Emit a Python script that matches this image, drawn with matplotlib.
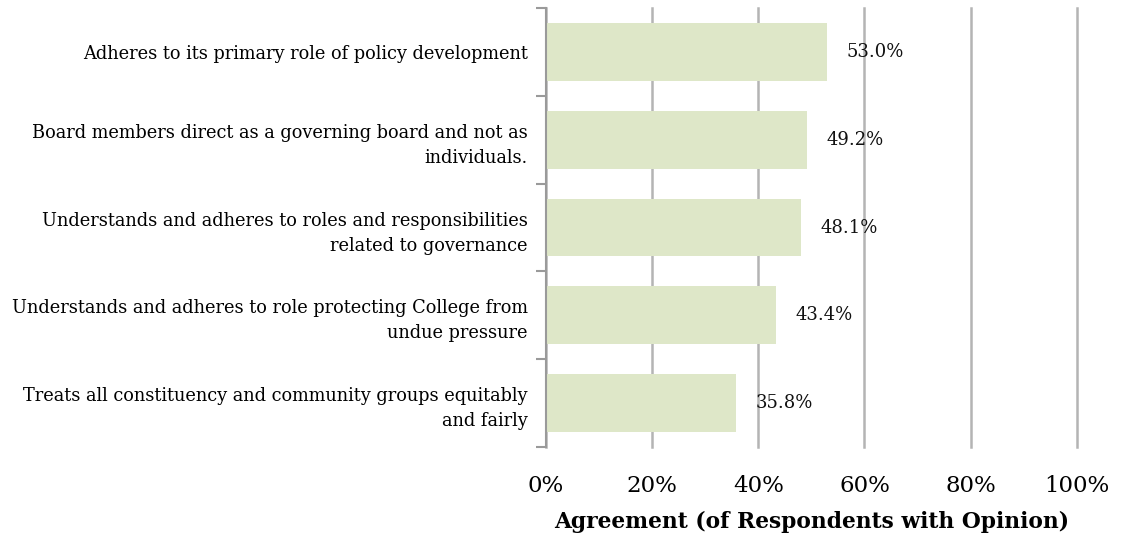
import matplotlib.pyplot as plt
from matplotlib.ticker import FixedLocator

categories = [
    'Adheres to its primary role of policy development',
    'Board members direct as a governing board and not as\nindividuals.',
    'Understands and adheres to roles and responsibilities\nrelated to governance',
    'Understands and adheres to role protecting College from\nundue pressure',
    'Treats all constituency and community groups equitably\nand fairly',
]
agreement = [53.0, 49.2, 48.1, 43.4, 35.8]
x_ticks = [0, 20, 40, 60, 80, 100]

plt.rcParams['font.family'] = ['DejaVu Serif']

fig = plt.figure(figsize=(11.23, 5.43), dpi=100)
ax = fig.add_axes([0.486, 0.177, 0.473, 0.808])

pos = list(range(len(categories)))
ax.barh(pos, agreement, height=0.66, color='#dee7c8', zorder=2)
for y, v in zip(pos, agreement):
    ax.text(v + 3.7, y, '%.1f%%' % v, va='center', ha='left', fontsize=13, color='#111111', zorder=3)

ax.set_xlim(0, 100)
ax.set_ylim(len(categories) - 0.5, -0.5)
ax.set_xticks(x_ticks)
ax.set_xticklabels(['%d%%' % t for t in x_ticks], fontsize=16.5)
ax.tick_params(axis='x', length=0, pad=20)
for gl in ax.get_xgridlines():
    gl.set_clip_on(False)
ax.grid(axis='x', color='#b4b4b4', linewidth=1.8, zorder=0)

ax.set_yticks(pos)
ax.set_yticklabels(categories, fontsize=12.8, linespacing=1.5)
ax.yaxis.set_minor_locator(FixedLocator([p - 0.5 for p in pos] + [len(pos) - 0.5]))
ax.tick_params(axis='y', which='major', length=0, pad=13)
ax.tick_params(axis='y', which='minor', length=7, width=1.5, color='#9a9a9a')

for side in ['top', 'right', 'bottom']:
    ax.spines[side].set_visible(False)
ax.spines['left'].set_color('#9a9a9a')
ax.spines['left'].set_linewidth(1.5)

ax.set_xlabel('Agreement (of Respondents with Opinion)', fontsize=15.7, fontweight='bold', labelpad=10)

plt.savefig('out.png', dpi=100)
